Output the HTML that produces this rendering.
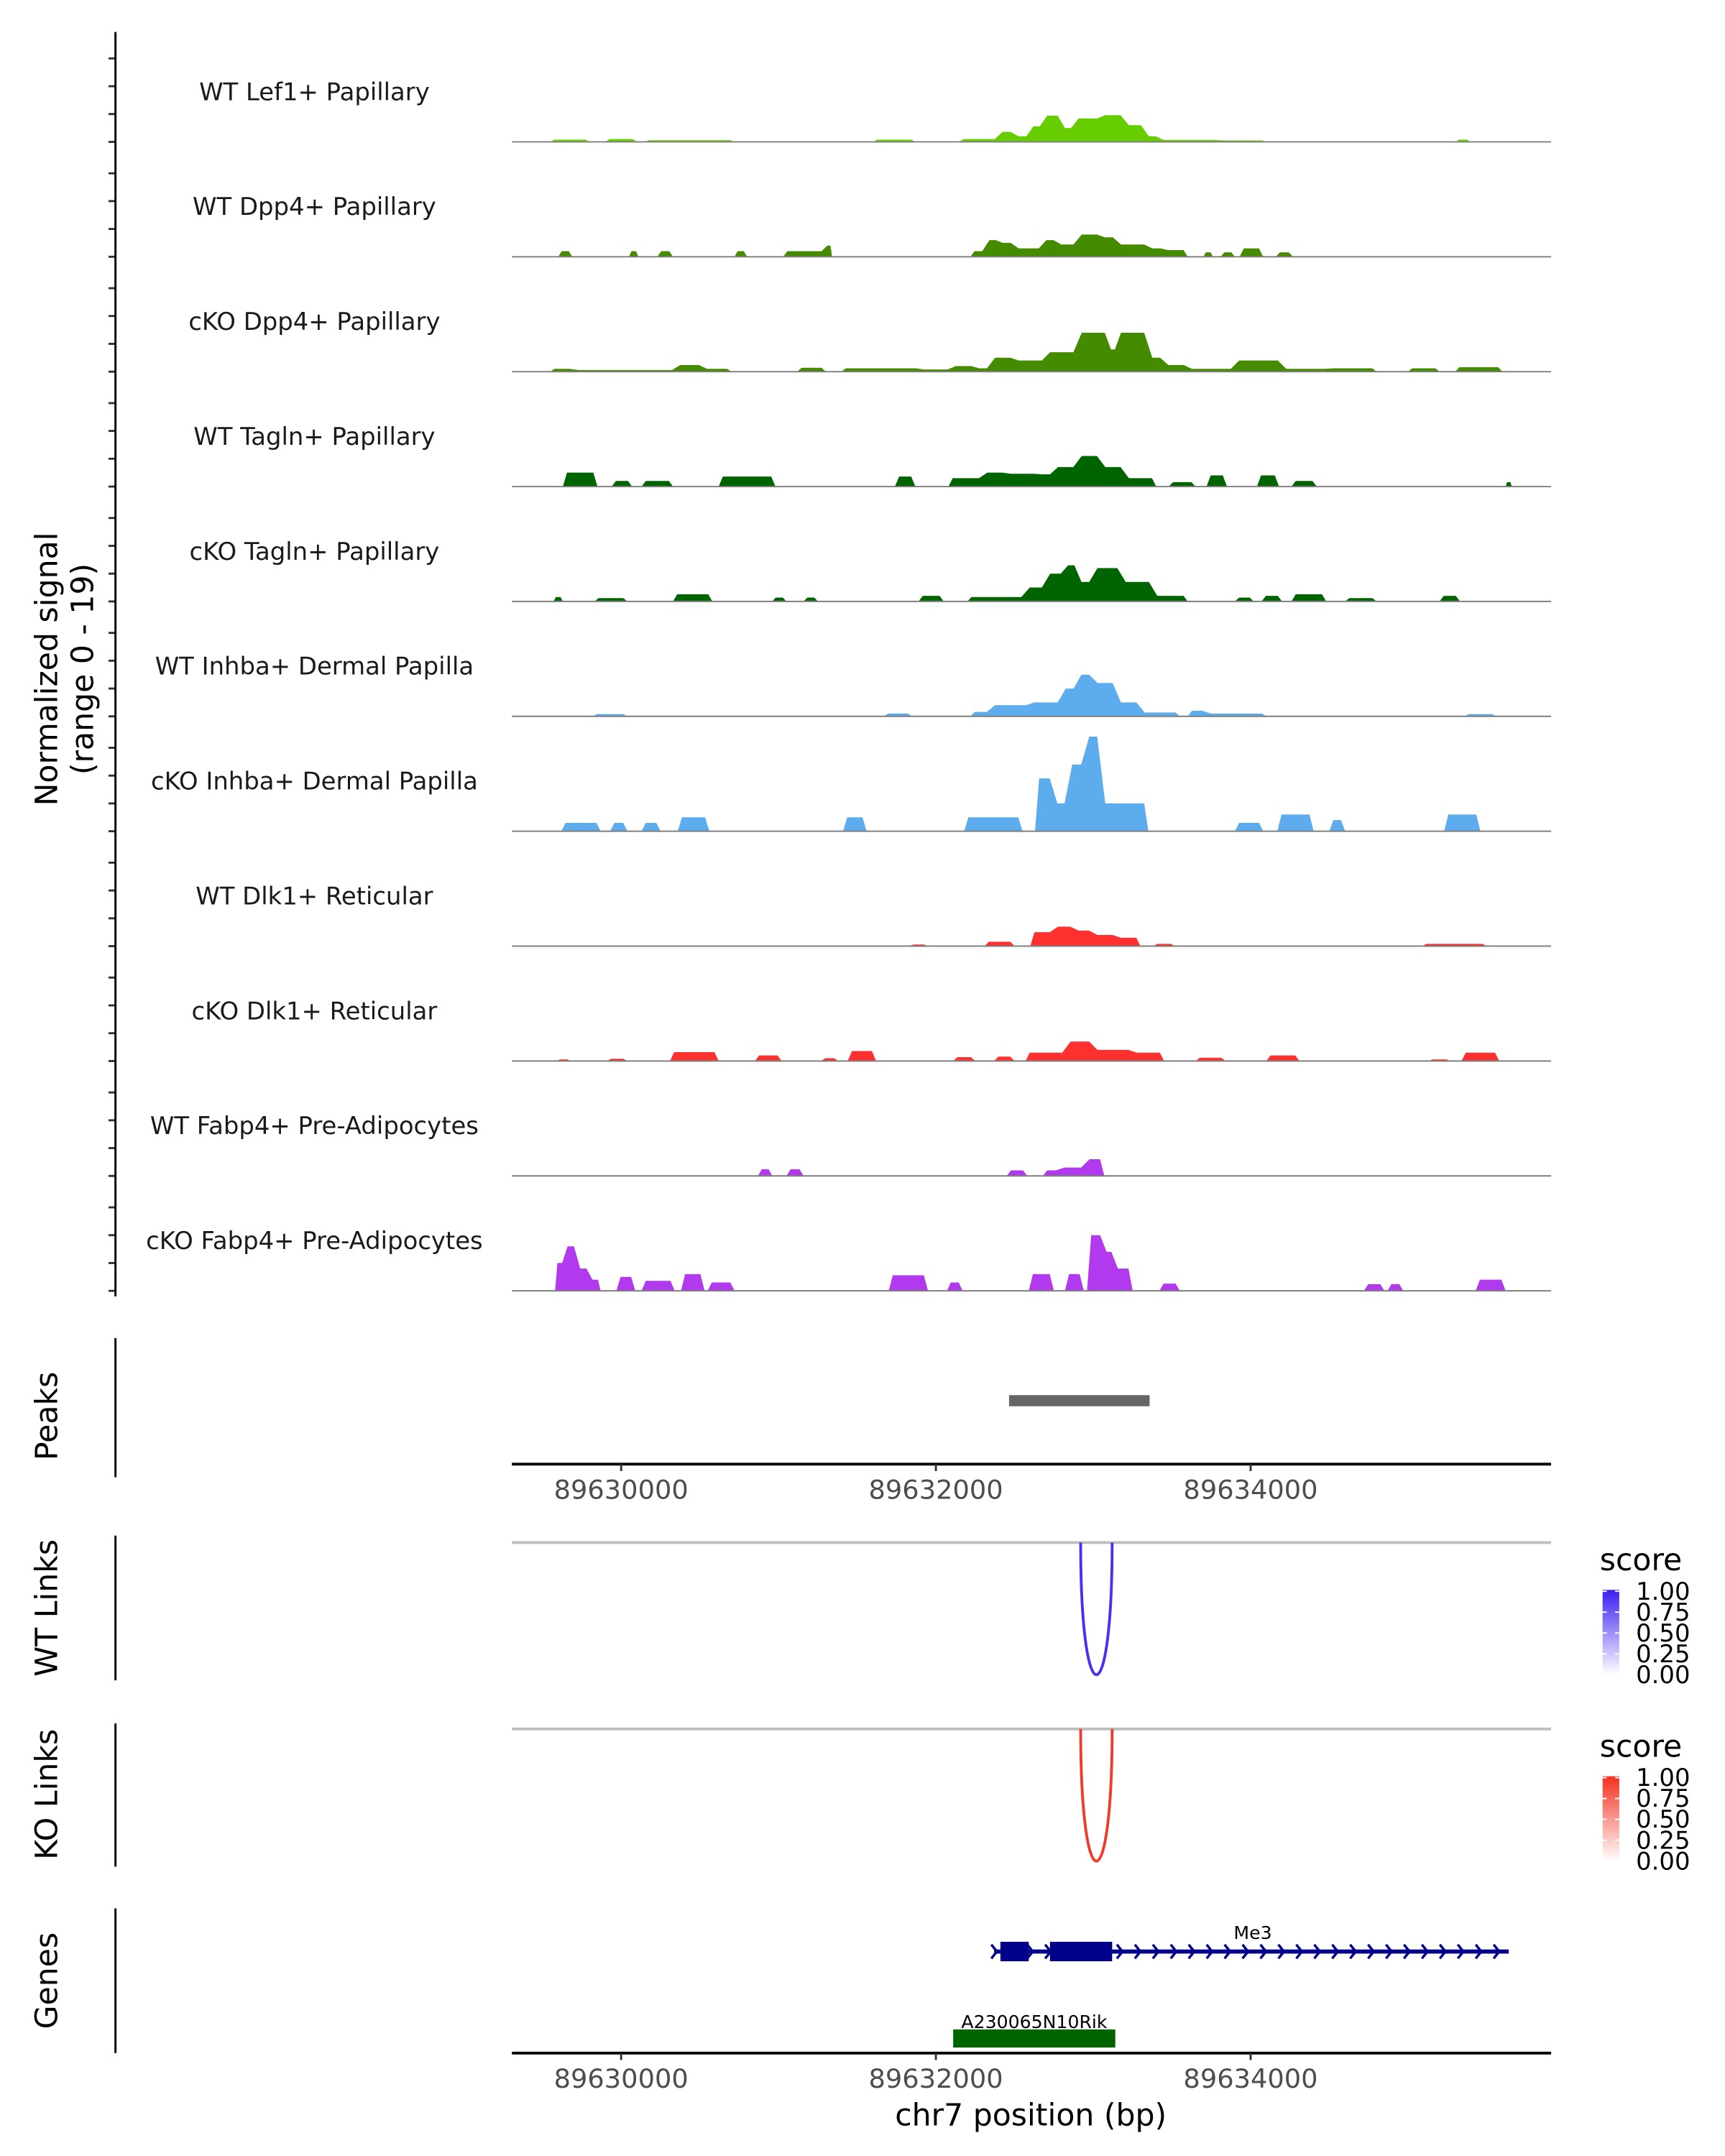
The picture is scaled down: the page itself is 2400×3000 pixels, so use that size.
<!DOCTYPE html>
<html><head><meta charset="utf-8"><style>
html,body{margin:0;padding:0;background:#fff;}
svg{display:block;font-family:"DejaVu Sans","Liberation Sans",sans-serif;}
</style></head><body>
<svg id="chart" width="2400" height="3000" viewBox="0 0 1240 1550" xmlns="http://www.w3.org/2000/svg">
<defs>
<linearGradient id="gBlue" x1="0" y1="0" x2="0" y2="1"><stop offset="0" stop-color="#3A1EF2"/><stop offset="1" stop-color="#ffffff"/></linearGradient>
<linearGradient id="gRed" x1="0" y1="0" x2="0" y2="1"><stop offset="0" stop-color="#F2301E"/><stop offset="1" stop-color="#ffffff"/></linearGradient>
</defs>
<g id="tracks"></g>
<text transform="translate(41,481) rotate(-90)" text-anchor="middle" font-size="22" fill="#000">Normalized signal</text>
<text transform="translate(67,481) rotate(-90)" text-anchor="middle" font-size="22" fill="#000">(range 0 - 19)</text>
<line x1="83" y1="23" x2="83" y2="932" stroke="#000" stroke-width="1.5"/>
<text transform="translate(41,1018) rotate(-90)" text-anchor="middle" font-size="22">Peaks</text>
<line x1="83" y1="962" x2="83" y2="1062" stroke="#000" stroke-width="1.5"/>
<rect id="peakRect" fill="#666666"/>
<g id="axisTop"></g>
<text transform="translate(41,1156) rotate(-90)" text-anchor="middle" font-size="22">WT Links</text>
<line x1="83" y1="1104" x2="83" y2="1208" stroke="#000" stroke-width="1.5"/>
<line x1="368" y1="1109" x2="1115" y2="1109" stroke="#BEBEBE" stroke-width="2"/>
<path id="wtArc" fill="none" stroke="#4B2EF0" stroke-width="2"/>
<text x="1150" y="1129" font-size="22">score</text>
<rect x="1152" y="1143" width="12" height="61" fill="url(#gBlue)"/>
<g id="wtLegendLabels"></g>
<text transform="translate(41,1290) rotate(-90)" text-anchor="middle" font-size="22">KO Links</text>
<line x1="83" y1="1239" x2="83" y2="1342" stroke="#000" stroke-width="1.5"/>
<line x1="368" y1="1243" x2="1115" y2="1243" stroke="#BEBEBE" stroke-width="2"/>
<path id="koArc" fill="none" stroke="#EE3B2B" stroke-width="2"/>
<text x="1150" y="1263" font-size="22">score</text>
<rect x="1152" y="1277" width="12" height="61" fill="url(#gRed)"/>
<g id="koLegendLabels"></g>
<text transform="translate(41,1424) rotate(-90)" text-anchor="middle" font-size="22">Genes</text>
<line x1="83" y1="1372" x2="83" y2="1476" stroke="#000" stroke-width="1.5"/>
<g id="genes"></g>
<g id="axisBottom"></g>
<text x="741" y="1528" text-anchor="middle" font-size="22">chr7 position (bp)</text>
</svg>
<script>
const regionBase = 89630000;
const xTicks = [89630000, 89632000, 89634000];
const trackLabels = ["WT Lef1+ Papillary","WT Dpp4+ Papillary","cKO Dpp4+ Papillary","WT Tagln+ Papillary","cKO Tagln+ Papillary","WT Inhba+ Dermal Papilla","cKO Inhba+ Dermal Papilla","WT Dlk1+ Reticular","cKO Dlk1+ Reticular","WT Fabp4+ Pre-Adipocytes","cKO Fabp4+ Pre-Adipocytes"];
const trackColors = ["#66CD00","#458B00","#458B00","#006400","#006400","#5CACEE","#5CACEE","#FF3030","#FF3030","#B23AEE","#B23AEE"];
// segments: [start offset bp, end offset bp, normalized signal]
const sigWtLef1 = [[-450,-200,.4],[-100,100,.5],[150,720,.3],[1600,1870,.4],[2150,2400,.5],[2400,2500,1.8],[2500,2600,1],[2600,2680,2.8],[2680,2800,4.7],[2800,2880,2.5],[2880,3050,4.2],[3050,3200,4.8],[3200,3330,3],[3330,3420,1],[3420,3800,.35],[3800,4100,.25],[5300,5400,.4]];
const sigWtDpp4 = [[-400,-310,1],[50,110,1],[230,330,1],[720,800,1],[1030,1300,1],[1300,1340,2],[2220,2320,1],[2320,2400,3],[2400,2500,2.5],[2500,2680,1.5],[2680,2770,3],[2770,2900,2.2],[2900,3050,4],[3050,3150,3.5],[3150,3350,2.2],[3350,3450,1.5],[3450,3600,1.2],[3700,3760,.8],[3810,3900,.8],[3930,4080,1.5],[4160,4270,.8]];
const sigKoDpp4 = [[-450,-300,.5],[-300,350,.3],[350,520,1.2],[520,700,.5],[1120,1300,.7],[1400,1900,.6],[1900,2100,.4],[2100,2250,1],[2250,2350,.6],[2350,2500,2.5],[2500,2700,2],[2700,2900,3.5],[2900,3100,7],[3100,3150,4],[3150,3350,7],[3350,3450,2.5],[3450,3600,1.2],[3600,3900,.5],[3900,4200,2],[4200,4500,.5],[4500,4800,.6],[5000,5200,.6],[5300,5600,.8]];
const sigWtTagln = [[-370,-150,2.5],[-60,70,1],[130,330,1],[620,980,1.8],[1740,1870,1.8],[2080,2300,1.5],[2300,2450,2.5],[2450,2650,2.3],[2650,2750,2.2],[2750,2900,3.5],[2900,3050,5.5],[3050,3200,3.5],[3200,3400,1.5],[3480,3650,.8],[3720,3850,2],[4040,4180,2],[4260,4420,1],[5620,5660,.8]];
const sigKoTagln = [[-430,-370,.8],[-170,40,.6],[330,580,1.3],[960,1050,.7],[1160,1250,.7],[1890,2050,1],[2200,2570,.8],[2570,2700,2.5],[2700,2820,5],[2820,2900,6.5],[2900,3000,3.5],[3000,3180,6],[3180,3380,3.5],[3380,3600,1],[3900,4020,.7],[4070,4200,1],[4260,4480,1.3],[4600,4800,.6],[5200,5330,1]];
const sigWtInhba = [[-180,40,.4],[1670,1850,.5],[2220,2350,.8],[2350,2600,2],[2600,2800,2.5],[2800,2900,5],[2900,3000,7.5],[3000,3150,6],[3150,3300,2.5],[3300,3550,.7],[3600,3720,1],[3720,4100,.5],[5360,5560,.4]];
const sigKoInhba = [[-380,-130,1.5],[-70,40,1.5],[130,250,1.5],[360,560,2.5],[1410,1560,2.5],[2180,2550,2.5],[2630,2750,9.5],[2750,2840,5],[2840,2950,12],[2950,3050,17],[3050,3350,5],[3900,4080,1.5],[4170,4400,3],[4500,4600,2],[5230,5460,3]];
const sigWtDlk1 = [[1830,1950,.3],[2310,2500,.8],[2600,2750,2.5],[2750,2880,3.5],[2880,3000,2.8],[3000,3150,2],[3150,3300,1.5],[3380,3520,.4],[5090,5500,.4]];
const sigKoDlk1 = [[-410,-320,.3],[-90,40,.4],[310,620,1.6],[850,1020,1],[1270,1380,.5],[1440,1620,1.8],[2110,2250,.7],[2370,2500,.8],[2570,2830,1.5],[2830,3000,3.5],[3000,3250,2],[3250,3450,1.5],[3650,3840,.6],[4100,4310,1],[5130,5270,.3],[5340,5580,1.5]];
const sigWtFabp4 = [[870,960,1.2],[1050,1160,1.2],[2450,2580,1],[2680,2790,1],[2790,2950,1.5],[2950,3070,3]];
const sigKoFabp4 = [[-420,-360,5],[-360,-280,8],[-280,-200,4],[-200,-130,2],[-30,90,2.5],[130,340,1.8],[380,530,3],[550,720,1.5],[1700,1950,2.8],[2070,2170,1.5],[2590,2750,3],[2820,2940,3],[2960,3070,10],[3070,3130,7],[3130,3250,4],[3420,3550,1.3],[4720,4850,1.2],[4870,4970,1.2],[5430,5620,2]];
const trackSignals = [sigWtLef1,sigWtDpp4,sigKoDpp4,sigWtTagln,sigKoTagln,sigWtInhba,sigKoInhba,sigWtDlk1,sigKoDlk1,sigWtFabp4,sigKoFabp4];
const peakRegion = [89632465, 89633358];
const linkAnchors = [89632920, 89633120];
const legendValues = ["1.00","0.75","0.50","0.25","0.00"];
const me3Span = [89632370, 89635640];
const me3Exons = [[89632410, 89632590],[89632725, 89633120]];
const rikSpan = [89632110, 89633140];

const NS = "http://www.w3.org/2000/svg";
const X0 = 368, X1 = 1115;
function x(bp){ return 446.5 + (bp - 89630000) * (452.5/4000); }
const firstBase = 102, pitch = 82.6, unit = 4;
function yVal(base, v){ return base - v * unit; }
function mk(tag, attrs, parent){ const e = document.createElementNS(NS, tag); for (const k in attrs) e.setAttribute(k, attrs[k]); parent.appendChild(e); return e; }

const tracks = document.getElementById("tracks");
trackLabels.forEach((lab, i) => {
  const b = firstBase + i * pitch;
  const g = mk("g", {}, tracks);
  
  
  for (let k = 0; k < 4; k++) {
    const t = mk("line", {x1:78, x2:83, y1:b - k*20, y2:b - k*20, stroke:"#333", "stroke-width":1.5}, g);
    
    
  }
  const tx = mk("text", {x:226, y:b - 30, "text-anchor":"middle", "font-size":17.5, fill:"#1a1a1a"}, g);
  tx.textContent = lab;
  
  
  let d = "";
  const segs = trackSignals[i].slice().sort((a, c) => a[0] - c[0]);
  let prevEnd = null;
  segs.forEach((s, j) => {
    const xs = x(regionBase + s[0]), xe = x(regionBase + s[1]), yy = yVal(b, s[2]);
    const r = Math.min((xe - xs) * 0.25, 3);
    const contiguous = prevEnd !== null && s[0] === prevEnd;
    if (!contiguous) {
      d += `M${xs.toFixed(1)},${b} L${(xs+r).toFixed(1)},${yy.toFixed(1)} `;
    } else {
      d += `L${(xs+r).toFixed(1)},${yy.toFixed(1)} `;
    }
    const next = segs[j+1];
    const nextContig = next && next[0] === s[1];
    if (nextContig) {
      d += `L${(xe-r).toFixed(1)},${yy.toFixed(1)} `;
    } else {
      d += `L${(xe-r).toFixed(1)},${yy.toFixed(1)} L${xe.toFixed(1)},${b} Z `;
    }
    prevEnd = s[1];
  });
  const p = mk("path", {d:d, fill:trackColors[i]}, g);
  
  
  const bl = mk("line", {x1:X0, x2:X1, y1:b, y2:b, stroke:"#7f7f7f", "stroke-width":1}, g);
  
  
});

const pr = document.getElementById("peakRect");
pr.setAttribute("x", x(peakRegion[0])); pr.setAttribute("width", x(peakRegion[1]) - x(peakRegion[0]));
pr.setAttribute("y", 1003); pr.setAttribute("height", 8);

function axis(gid, y){
  const g = document.getElementById(gid);
  mk("line", {x1:X0, x2:X1, y1:y, y2:y, stroke:"#000", "stroke-width":2}, g);
  xTicks.forEach(t => {
    const tk = mk("line", {x1:x(t), x2:x(t), y1:y, y2:y+5, stroke:"#333", "stroke-width":1.5}, g);
    
    
    const tl = mk("text", {x:x(t), y:y+25, "text-anchor":"middle", "font-size":19, fill:"#4D4D4D"}, g);
    tl.textContent = String(t);
    
    
  });
}
axis("axisTop", 1052.6);
axis("axisBottom", 1476);

function arc(id, top, bottom){
  const a = x(linkAnchors[0]), c = x(linkAnchors[1]);
  const cy = (8*bottom - 2*top) / 6;
  document.getElementById(id).setAttribute("d", `M${a},${top} C${a},${cy} ${c},${cy} ${c},${top}`);
}
arc("wtArc", 1109, 1204);
arc("koArc", 1243, 1338);

function legend(gid, top){
  const g = document.getElementById(gid);
  legendValues.forEach((v, i) => {
    const yy = top + i * 15;
    mk("line", {x1:1152, x2:1155, y1:yy, y2:yy, stroke:"#fff", "stroke-width":1}, g);
    mk("line", {x1:1161, x2:1164, y1:yy, y2:yy, stroke:"#fff", "stroke-width":1}, g);
    const t = mk("text", {x:1176, y:yy + 6, "font-size":17.5}, g);
    t.textContent = v;
    
    
  });
}
legend("wtLegendLabels", 1144);
legend("koLegendLabels", 1278);

const genes = document.getElementById("genes");
const gy = 1403;
const me3 = mk("g", {}, genes);


mk("line", {x1:x(me3Span[0]), x2:x(me3Span[1]), y1:gy, y2:gy, stroke:"#00008B", "stroke-width":3}, me3);
me3Exons.forEach(e => mk("rect", {x:x(e[0]), y:gy-7, width:x(e[1])-x(e[0]), height:14, fill:"#00008B"}, me3));
for (let bp = me3Span[0]; bp <= me3Span[1]; bp += 114) {
  const cx = x(bp);
  mk("path", {d:`M${cx-2},${gy-5} L${cx+2},${gy} L${cx-2},${gy+5}`, fill:"none", stroke:"#00008B", "stroke-width":1.8}, me3);
}
const me3t = mk("text", {x:x((me3Span[0]+me3Span[1])/2)+1, y:1394, "text-anchor":"middle", "font-size":13}, me3);
me3t.textContent = "Me3";
const rik = mk("g", {}, genes);


mk("rect", {x:x(rikSpan[0]), y:1459, width:x(rikSpan[1])-x(rikSpan[0]), height:13, fill:"#006400"}, rik);
const rt = mk("text", {x:x((rikSpan[0]+rikSpan[1])/2), y:1458, "text-anchor":"middle", "font-size":13}, rik);
rt.textContent = "A230065N10Rik";
</script>
</body></html>
